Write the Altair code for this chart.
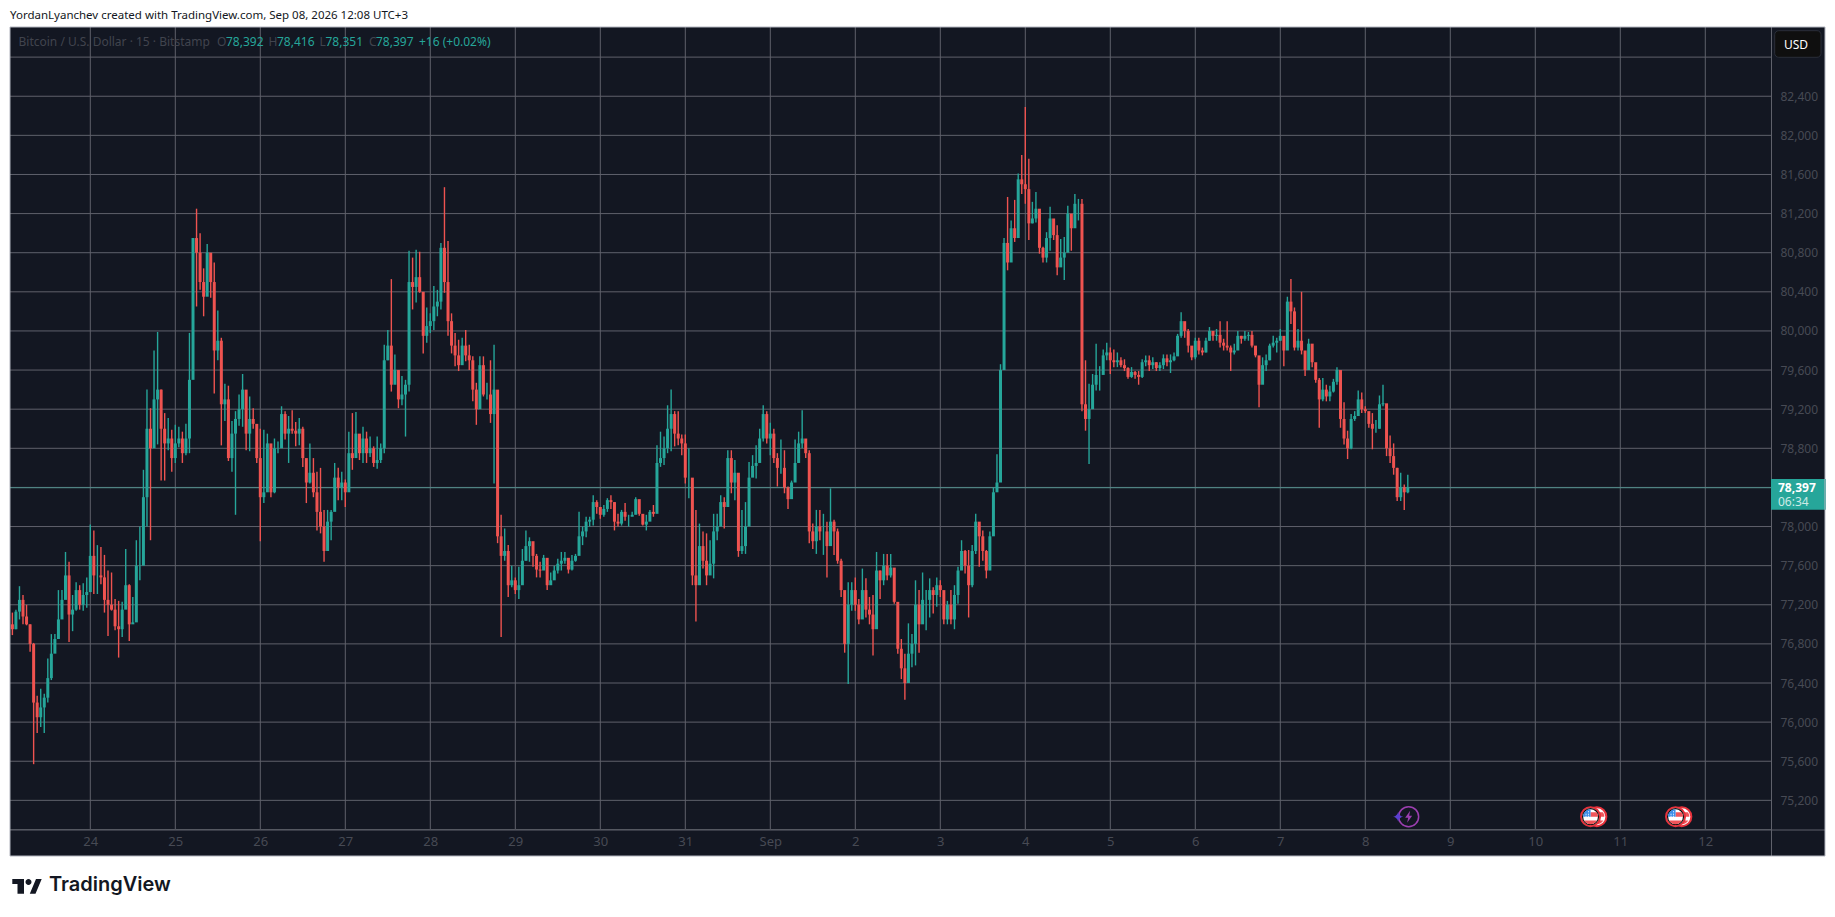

import json

import altair as alt
import pandas as pd

BG = "#131722"
GRID = "#5f616b"
UP = "#26a69a"
DOWN = "#ef5350"
DIM = "#474a54"
FONT = "Noto Sans"

# first candle sits at 22:00 on Aug 23, one candle per hour; Aug 24 00:00 is day 0
FIRST_HOUR = -22
FIRST_OPEN = 77000

HIGHS = [
    77120, 77150, 77390, 77300, 77200, 77000, 76810, 76270, 76340, 76290, 76650, 76900, 76900, 77350, 77350, 77740, 77640, 77300, 77430, 77400, 77420, 77480, 78020,
    77960, 77810, 77790, 77710, 77550, 77530, 77260, 77240, 77230, 77770, 77410, 77280, 77860, 78000, 78580, 79400, 79210, 79800, 79990, 79400, 79160, 79110, 78990, 79040,
    79020, 78970, 79050, 79980, 80950, 81250, 81000, 80640, 80890, 80770, 80700, 80210, 79930, 79460, 79440, 79080, 79180, 79350, 79560, 79350, 79330, 79210, 78970, 79000,
    78990, 78950, 78610, 78900, 78870, 79230, 79180, 79130, 79190, 79070, 79110, 79020, 78600, 78850, 78700, 78560, 78600, 78170, 78170, 78170, 78650, 78600, 78560, 78480,
    78970, 79160, 79170, 78920, 79020, 78970, 78920, 78820, 78920, 78850, 79860, 80010, 80530, 79760, 79600, 79540, 79500, 80820, 80750, 80830, 80810, 80290, 80240, 80180,
    80460, 80420, 80900, 81470, 80920, 80180, 79980, 79910, 79930, 80010, 79860, 79740, 79470, 79740, 79740, 79470, 79700, 79860, 78930, 78120, 77980, 77810, 77600, 77480,
    77590, 77770, 77960, 77890, 77840, 77720, 77640, 77710, 77640, 77530, 77600, 77670, 77740, 77740, 77650, 77710, 77720, 78150, 78000, 78100, 78100, 78320, 78270, 78200,
    78220, 78290, 78320, 78250, 78130, 78170, 78240, 78120, 78150, 78300, 78220, 78120, 78120, 78170, 78220, 78830, 78970, 78920, 79240, 79400, 79180, 79180, 78940, 78940,
    78800, 78400, 78170, 78030, 77950, 77930, 77860, 78130, 78130, 78320, 78300, 78780, 78780, 78680, 78510, 78170, 78250, 78660, 78730, 78830, 79000, 79240, 79180, 79060,
    79000, 78750, 78890, 78780, 78410, 78470, 78890, 78970, 79190, 78850, 78780, 78030, 78170, 78170, 78130, 78050, 78390, 78070, 77980, 77670, 77280, 77430, 77430, 77480,
    77260, 77570, 77470, 77280, 77300, 77740, 77550, 77720, 77720, 77720, 77570, 77210, 76850, 76700, 77010, 76900, 77450, 77350, 77530, 77350, 77470, 77380, 77480, 77450,
    77280, 77240, 77350, 77400, 77590, 77860, 77760, 77760, 77810, 78130, 78030, 77960, 77760, 77950, 78400, 78740, 79660, 80950, 81370, 81130, 81340, 81610, 81800, 82290,
    81760, 81320, 81420, 81030, 80860, 81010, 81270, 81130, 81080, 80940, 80960, 81280, 81100, 81400, 81350, 81350, 79700, 79460, 79560, 79870, 79640, 79810, 79880, 79830,
    79810, 79780, 79730, 79710, 79630, 79630, 79590, 79590, 79710, 79750, 79750, 79730, 79680, 79680, 79760, 79760, 79760, 79780, 79970, 80190, 80070, 80020, 79830, 79930,
    79930, 79830, 79930, 80040, 80000, 80020, 80100, 79920, 80100, 79850, 79870, 80000, 79950, 80000, 79990, 80000, 79830, 79730, 79730, 79760, 79870, 79950, 79930, 80020,
    79930, 80350, 80530, 80240, 80020, 80400, 79760, 79920, 79830, 79660, 79520, 79520, 79450, 79440, 79510, 79630, 79390, 79270, 78980, 79150, 79180, 79390, 79370, 79230,
    79160, 79160, 79090, 79340, 79450, 79050, 78930, 78850, 78600, 78550, 78430, 78530,
]
LOWS = [
    76890, 76950, 77050, 77000, 76990, 76720, 75570, 75890, 75950, 75890, 76200, 76430, 76730, 76990, 77100, 77280, 76820, 76930, 77140, 77150, 77140, 77170, 77570,
    77310, 77310, 77410, 77120, 76880, 77140, 76940, 76660, 76870, 77230, 76830, 77010, 77280, 77450, 78000, 78000, 77860, 78850, 78840, 78470, 78470, 78780, 78560, 78650,
    78810, 78650, 78730, 78750, 79540, 80250, 80420, 80150, 80550, 80340, 79360, 79700, 78830, 79080, 78670, 78560, 78120, 79030, 79020, 78780, 78770, 79000, 78650, 77850,
    78240, 78400, 78300, 78340, 78750, 78890, 78890, 78650, 78950, 78820, 78830, 78610, 78240, 78440, 78300, 77960, 77930, 77640, 77890, 77860, 78370, 78270, 78270, 78200,
    78610, 78580, 78710, 78680, 78650, 78650, 78710, 78610, 78590, 78650, 78750, 79700, 79380, 79470, 79210, 79240, 78920, 79380, 80220, 80290, 80390, 79770, 79880, 79980,
    80010, 80150, 80220, 80390, 79950, 79770, 79640, 79590, 79670, 79690, 79600, 79280, 79040, 79330, 79330, 79300, 79060, 78440, 77830, 76870, 77650, 77280, 77380, 77310,
    77260, 77550, 77650, 77640, 77590, 77480, 77480, 77590, 77350, 77410, 77480, 77520, 77550, 77620, 77520, 77550, 77640, 77830, 77810, 77890, 78000, 78010, 78130, 78080,
    78100, 78150, 78180, 77960, 78000, 78010, 78060, 78000, 78110, 78150, 78110, 78010, 77960, 78080, 78100, 78150, 78610, 78630, 78750, 78770, 78820, 78830, 78730, 78440,
    78290, 77400, 77030, 77550, 77570, 77400, 77550, 77470, 77860, 78010, 77980, 78270, 78340, 78270, 77690, 77720, 77720, 78200, 78510, 78490, 78770, 78870, 78850, 78730,
    78650, 78410, 78540, 78340, 78180, 78320, 78580, 78650, 78800, 78700, 77830, 77770, 77720, 77860, 77710, 77480, 78030, 77710, 77620, 77280, 76710, 76390, 77140, 77140,
    77000, 77180, 77070, 77000, 76680, 77140, 77260, 77400, 77450, 77480, 77210, 76700, 76440, 76230, 76420, 76560, 76580, 76710, 77040, 76940, 77070, 77110, 77180, 77280,
    77000, 77000, 77000, 76950, 77210, 77590, 77520, 77070, 77380, 77720, 77590, 77650, 77470, 77690, 77910, 78410, 78680, 79600, 80620, 80820, 80910, 81030, 81400, 81300,
    80930, 81100, 81110, 80790, 80700, 80700, 80820, 80930, 80570, 80690, 80520, 80960, 80820, 81130, 81130, 79180, 78980, 78640, 79390, 79390, 79390, 79560, 79700, 79560,
    79630, 79630, 79630, 79590, 79510, 79520, 79510, 79450, 79520, 79640, 79590, 79610, 79590, 79590, 79610, 79640, 79570, 79690, 79760, 79930, 79930, 79780, 79700, 79710,
    79760, 79750, 79780, 79900, 79900, 79900, 79830, 79800, 79800, 79590, 79760, 79850, 79870, 79900, 79900, 79830, 79730, 79220, 79590, 79590, 79700, 79830, 79780, 79900,
    79640, 79830, 80070, 79800, 79800, 79760, 79540, 79610, 79630, 79470, 79010, 79280, 79280, 79280, 79370, 79450, 79010, 78840, 78690, 78790, 79080, 79130, 79160, 79160,
    79010, 78790, 78960, 79000, 79230, 78720, 78650, 78530, 78260, 78260, 78170, 78340,
]
CLOSES = [
    76950, 77130, 77250, 77080, 77000, 76800, 76200, 76050, 76150, 76250, 76450, 76700, 76850, 77050, 77250, 77500, 77100, 77150, 77350, 77200, 77300, 77330, 77700,
    77500, 77500, 77480, 77250, 77200, 77150, 76980, 76950, 77150, 77400, 77000, 77020, 77600, 77600, 78300, 79000, 78800, 79300, 79400, 79000, 78850, 78900, 78700, 78850,
    78900, 78750, 78900, 79500, 80950, 80800, 80500, 80350, 80800, 80500, 79800, 79900, 79250, 79300, 78700, 78950, 79100, 79200, 79400, 78950, 79100, 79050, 78700, 78300,
    78350, 78850, 78350, 78800, 78800, 79150, 78950, 79000, 78980, 78950, 79000, 78700, 78450, 78550, 78350, 78150, 78000, 77750, 78050, 78150, 78500, 78400, 78450, 78350,
    78750, 78700, 78950, 78750, 78900, 78750, 78800, 78650, 78680, 78800, 79700, 79850, 79450, 79600, 79300, 79350, 79450, 80500, 80450, 80550, 80400, 79950, 80050, 80100,
    80250, 80300, 80850, 80500, 80100, 79850, 79750, 79650, 79850, 79750, 79700, 79400, 79200, 79650, 79350, 79350, 79150, 79400, 77900, 77700, 77750, 77400, 77450, 77350,
    77400, 77650, 77800, 77850, 77700, 77560, 77550, 77680, 77400, 77450, 77550, 77620, 77650, 77680, 77560, 77650, 77700, 77900, 77950, 78050, 78070, 78250, 78200, 78120,
    78180, 78270, 78250, 78050, 78030, 78150, 78100, 78100, 78120, 78280, 78130, 78020, 78050, 78150, 78130, 78650, 78700, 78800, 79000, 79150, 78950, 78900, 78850, 78500,
    78500, 77500, 77400, 77800, 77650, 77500, 77620, 77950, 78000, 78250, 78200, 78700, 78450, 78550, 77750, 77800, 78000, 78500, 78620, 78650, 78900, 79150, 78900, 78950,
    78700, 78600, 78600, 78400, 78280, 78450, 78650, 78850, 78900, 78750, 77950, 77850, 78000, 77950, 77950, 77800, 78050, 77950, 77650, 77350, 76800, 77200, 77350, 77200,
    77050, 77350, 77150, 77100, 76950, 77550, 77450, 77600, 77500, 77580, 77230, 76750, 76550, 76400, 76700, 76800, 77200, 77000, 77250, 77250, 77350, 77300, 77400, 77350,
    77050, 77200, 77050, 77300, 77550, 77750, 77600, 77400, 77750, 78050, 77900, 77750, 77550, 77900, 78350, 78450, 79600, 80900, 80700, 81050, 80950, 81550, 81500, 81450,
    81100, 81150, 81250, 80850, 80750, 80950, 81150, 80980, 80650, 80750, 80800, 81200, 81050, 81300, 81300, 79250, 79100, 79200, 79450, 79550, 79550, 79750, 79780, 79700,
    79680, 79700, 79650, 79620, 79530, 79580, 79550, 79530, 79680, 79700, 79650, 79680, 79620, 79650, 79720, 79680, 79700, 79740, 79950, 80100, 80000, 79850, 79730, 79900,
    79800, 79780, 79900, 80000, 79950, 79960, 79880, 79850, 79830, 79780, 79800, 79950, 79920, 79950, 79960, 79850, 79750, 79450, 79650, 79700, 79850, 79880, 79900, 79950,
    79800, 80300, 80200, 79830, 79900, 79800, 79600, 79870, 79680, 79500, 79300, 79400, 79330, 79380, 79480, 79600, 79100, 78900, 78800, 79100, 79130, 79300, 79200, 79180,
    79050, 79000, 79000, 79250, 79260, 78800, 78720, 78600, 78300, 78400, 78350, 78397,
]

LAST_PRICE = 78397
GRID_PRICES = [75200, 75600, 76000, 76400, 76800, 77200, 77600, 78000, 78400, 78800, 79200, 79600,
               80000, 80400, 80800, 81200, 81600, 82000, 82400, 82800]
PRICE_TICKS = [75200, 75600, 76000, 76400, 76800, 77200, 77600, 78000, 78800, 79200, 79600,
               80000, 80400, 80800, 81200, 81600, 82000, 82400]
DAY_TICKS = list(range(20))
DAY_LABELS = ["24", "25", "26", "27", "28", "29", "30", "31", "Sep", "2", "3", "4", "5", "6", "7", "8",
              "9", "10", "11", "12"]
FLASH_DAYS = [15.51]
FLAG_DAYS = [17.65, 18.65]

CREDIT = "YordanLyanchev created with TradingView.com, Sep 08, 2026 12:08 UTC+3"
SYMBOL = "Bitcoin / U.S. Dollar · 15 · Bitstamp"
OHLC_KEYS = ["O", "H", "L", "C"]
OHLC_VALUES = ["78,392", "78,416", "78,351", "78,397"]
CHANGE = "+16 (+0.02%)"

PLOT_W = 1761
PLOT_H = 802.5
FRAME_W = 1815
FRAME_H = 829

x_scale = alt.Scale(domain=[-0.9447, 19.773], nice=False, zero=False)
y_scale = alt.Scale(domain=[74902, 83108], nice=False, zero=False)
x_axis = alt.Axis(
    values=DAY_TICKS, labelExpr=f"{json.dumps(DAY_LABELS)}[datum.value]", title=None, grid=False, domain=False,
    ticks=False, labelColor=DIM, labelFont=FONT, labelFontSize=13, labelPadding=6, labelFlush=False, zindex=1)
y_axis = alt.Axis(
    orient="right", values=PRICE_TICKS, format=",d", title=None, grid=False, domain=False, ticks=False,
    labelAlign="left", labelColor=DIM, labelFont=FONT, labelFontSize=12, labelPadding=9, zindex=1)

candles = pd.DataFrame({"high": HIGHS, "low": LOWS, "close": CLOSES})
candles["day"] = [(FIRST_HOUR + i) / 24 for i in range(len(candles))]
candles["open"] = [FIRST_OPEN] + CLOSES[:-1]
candles["dir"] = ["up" if c >= o else "down" for o, c in zip(candles["open"], candles["close"])]
candle_color = alt.Color("dir:N", scale=alt.Scale(domain=["up", "down"], range=[UP, DOWN]), legend=None)


def x_day():
    return alt.X("day:Q", scale=x_scale, axis=x_axis)


def y_price(field="price:Q"):
    return alt.Y(field, scale=y_scale, axis=y_axis)


def label(text, x, y, color=DIM, size=12, weight="normal", align="left", font=FONT):
    return alt.Chart(pd.DataFrame({"t": [text]})).mark_text(
        align=align, baseline="middle", color=color, fontSize=size, fontWeight=weight, font=font,
    ).encode(x=alt.value(x), y=alt.value(y), text="t:N")


def box(x, x2, y, y2, **style):
    return alt.Chart(pd.DataFrame({"a": [0]})).mark_rect(**style).encode(
        x=alt.value(x), x2=alt.value(x2), y=alt.value(y), y2=alt.value(y2))


def glyph(days, shape, color, size=4, dx=0):
    # custom paths are written in pixels, size 4 keeps them at scale 1
    return alt.Chart(pd.DataFrame({"day": days})).mark_point(
        shape=shape, size=size, opacity=1, xOffset=dx, filled=True, color=color,
    ).encode(x=x_day(), y=alt.value(789.7))


def ring(days, radius, stroke, width, fill, dx=0):
    return alt.Chart(pd.DataFrame({"day": days})).mark_point(
        shape="circle", size=4 * radius ** 2, filled=False, fill=fill, stroke=stroke,
        strokeWidth=width, opacity=1, xOffset=dx,
    ).encode(x=x_day(), y=alt.value(789.7))


grid_h = alt.Chart(pd.DataFrame({"price": GRID_PRICES})).mark_rule(color=GRID, strokeWidth=1).encode(y=y_price())
grid_v = alt.Chart(pd.DataFrame({"day": DAY_TICKS})).mark_rule(color=GRID, strokeWidth=1).encode(x=x_day())
last_line = alt.Chart(pd.DataFrame({"price": [LAST_PRICE]})).mark_rule(color="#4f8f8c", strokeWidth=1).encode(y=y_price())

wicks = alt.Chart(candles).mark_rule(strokeWidth=1.4).encode(
    x=x_day(), y=y_price("low:Q"), y2="high:Q", color=candle_color)
bodies = alt.Chart(candles).mark_rule(strokeWidth=3).encode(
    x=x_day(), y=y_price("open:Q"), y2="close:Q", color=candle_color)

panels = [
    box(PLOT_W, FRAME_W, 0, FRAME_H, color=BG),
    box(0, PLOT_W, PLOT_H, FRAME_H, color=BG),
    box(PLOT_W, PLOT_W + 1, 0, FRAME_H, color=GRID),
    box(0, FRAME_W, PLOT_H, PLOT_H + 1, color=GRID),
]

# symbol line, top left
ohlc = [label(SYMBOL, 8.5, 15, color="#41444e", size=12)]
for key, value, kx, vx in zip(OHLC_KEYS, OHLC_VALUES, [207, 258.5, 309.5, 359], [216, 267, 315.5, 366]):
    ohlc.append(label(key, kx, 15, color="#41444e"))
    ohlc.append(label(value, vx, 15, color=UP))
ohlc.append(label(CHANGE, 409, 15, color=UP))

usd = [
    box(1764.7, 1811, 3.7, 30.3, fill="#0f0f0f", stroke="#2a2e39", strokeWidth=1, cornerRadius=4),
    label("USD", 1774, 17.5, color="#ffffff", size=12),
]
last_tag = [
    box(PLOT_W, 1816, 452, 482.7, color=UP),
    label("78,397", 1768, 460.5, color="#ffffff", size=12, weight="bold"),
    label("06:34", 1768, 474.5, color="#cdeae6", size=12),
]

FLAG_BLUE = "M-7.5,0 A7.5,7.5 0 0 1 0,-7.5 L0,0 Z"
FLAG_RED_LOW = "M-6.5,3.8 A7.5,7.5 0 0 0 6.5,3.8 Z"
FLAG_RED_MID = "M0,-4.5 L6,-4.5 A7.5,7.5 0 0 1 7.5,0 L0,0 Z"
FLAG_DOTS = "M-5,-3 h1 v1 h-1 Z M-2.5,-3 h1 v1 h-1 Z M-2.5,-5.5 h1 v1 h-1 Z M-5,-1 h1 v1 h-1 Z M-2.5,-1 h1 v1 h-1 Z"
BOLT = "M1.5,-6 L-3.5,1 L-0.5,1 L-1.5,6 L3.5,-1 L0.5,-1 Z"
STAR = "M0,-5 Q0.8,-0.8 5,0 Q0.8,0.8 0,5 Q-0.8,0.8 -5,0 Q-0.8,-0.8 0,-5 Z"
events = [
    ring(FLAG_DAYS, 9.5, "#e8323c", 2, "#ffffff", dx=6.3),
    glyph(FLAG_DAYS, FLAG_RED_LOW, "#f0555a", dx=6.3),
    glyph(FLAG_DAYS, FLAG_RED_MID, "#f0555a", dx=6.3),
    ring(FLAG_DAYS, 9.5, "#e8323c", 2, "#ffffff"),
    ring(FLAG_DAYS, 8, "#111111", 1.2, "#ffffff"),
    glyph(FLAG_DAYS, FLAG_RED_LOW, "#f0555a"),
    glyph(FLAG_DAYS, FLAG_RED_MID, "#f0555a"),
    glyph(FLAG_DAYS, FLAG_BLUE, "#3d8ee8"),
    glyph(FLAG_DAYS, FLAG_DOTS, "#ffffff"),
    ring(FLASH_DAYS, 10, "#9c3fb0", 1.5, BG),
    glyph(FLASH_DAYS, BOLT, "#9c3fb0"),
    glyph(FLASH_DAYS, STAR, "#5a3fd0", dx=-10.5),
]

# outside the dark frame
LOGO = ("M2.3,852 H14 V866.7 H7.5 V857 H2.3 Z M18.5,852 a3,3 0 1 0 0.01,0 Z "
        "M26,852 H31.7 L25.5,866.7 H19.8 Z")
logo_mark = alt.Chart(pd.DataFrame({"a": [0]})).mark_point(
    shape=LOGO, size=4, filled=True, color="#131722", opacity=1).encode(x=alt.value(0), y=alt.value(0))
credit = label(CREDIT, 0, -11, color="#131722", size=11.5)
logo_word = label("TradingView", 39, 858, color="#131722", size=20, weight=600, font="Inter")
frame = box(0, FRAME_W, 0, FRAME_H, fill="transparent", stroke="#b2b5be", strokeWidth=1)

chart = alt.layer(
    grid_h, grid_v, *panels, last_line, wicks, bodies, *ohlc, *usd, *last_tag, *events,
    frame, credit, logo_mark, logo_word,
).properties(
    width=PLOT_W, height=PLOT_H,
    autosize=alt.AutoSizeParams(type="none"),
    padding={"left": 2, "top": 19, "right": 55, "bottom": 71},
    background="#ffffff",
).configure_view(fill=BG, strokeWidth=0)

chart.save("out.html", embed_options={"renderer": "svg", "actions": False})
